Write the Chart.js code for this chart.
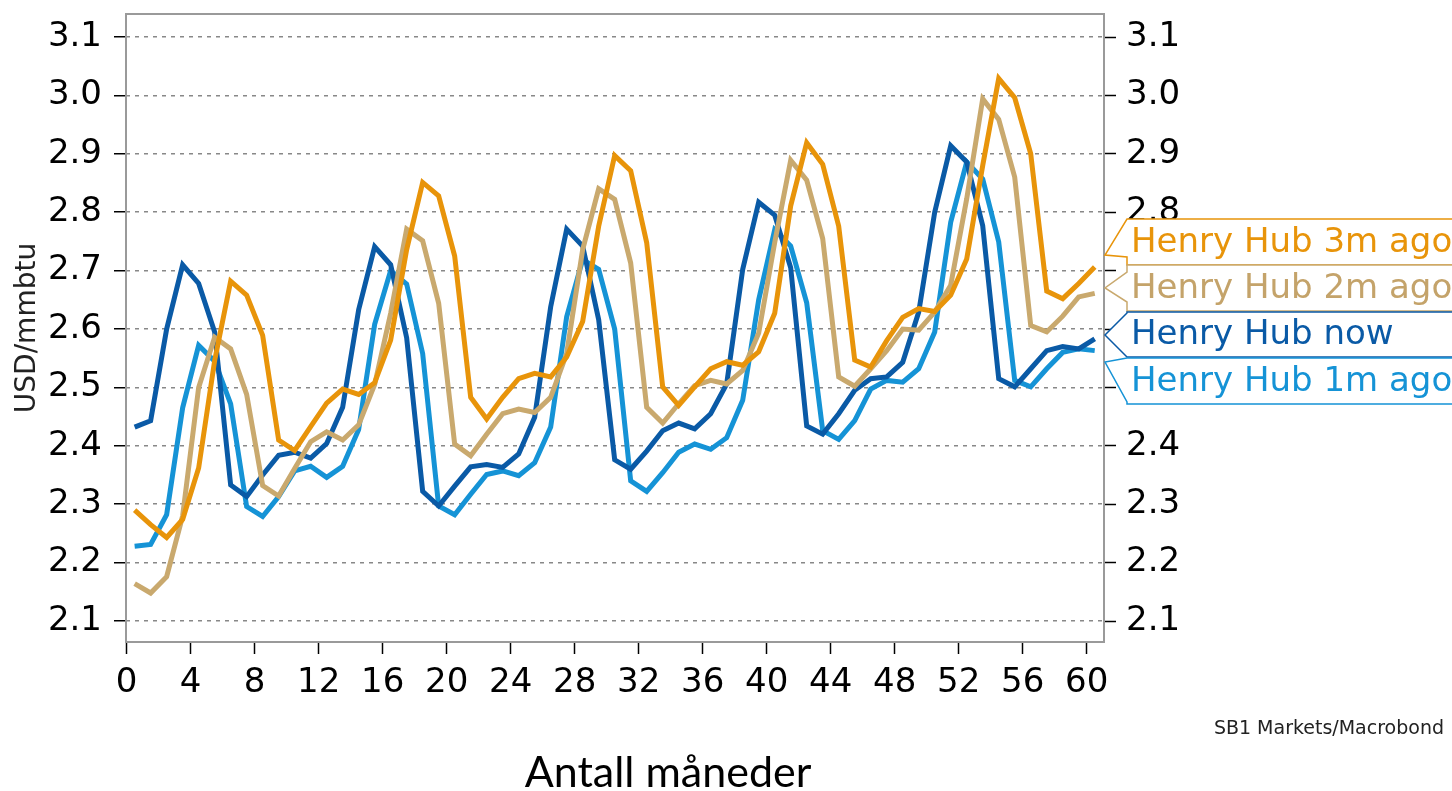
<!DOCTYPE html>
<html>
<head>
<meta charset="utf-8">
<script src="https://cdn.jsdelivr.net/npm/chart.js@4.4.1/dist/chart.umd.min.js"></script>
<style>
html,body{margin:0;padding:0;background:#fff;overflow:hidden}
#wrap{width:1452px;height:791px;position:relative}
</style>
</head>
<body>
<div id="wrap"><canvas id="c" width="1452" height="791"></canvas></div>
<script>
// ---- data ----
const months = [0.5,1.5,2.5,3.5,4.5,5.5,6.5,7.5,8.5,9.5,10.5,11.5,12.5,13.5,14.5,15.5,16.5,17.5,18.5,19.5,20.5,21.5,22.5,23.5,24.5,25.5,26.5,27.5,28.5,29.5,30.5,31.5,32.5,33.5,34.5,35.5,36.5,37.5,38.5,39.5,40.5,41.5,42.5,43.5,44.5,45.5,46.5,47.5,48.5,49.5,50.5,51.5,52.5,53.5,54.5,55.5,56.5,57.5,58.5,59.5,60.5];

const henryHub3mAgo = [2.290,2.265,2.243,2.274,2.362,2.546,2.682,2.658,2.589,2.410,2.392,2.433,2.473,2.497,2.488,2.508,2.581,2.736,2.851,2.828,2.725,2.483,2.446,2.483,2.515,2.524,2.518,2.552,2.613,2.776,2.897,2.871,2.748,2.501,2.469,2.501,2.532,2.544,2.538,2.561,2.627,2.811,2.919,2.882,2.776,2.547,2.535,2.580,2.620,2.635,2.630,2.658,2.720,2.880,3.029,2.996,2.900,2.665,2.652,2.678,2.706];

const henryHub2mAgo = [2.164,2.148,2.176,2.280,2.500,2.586,2.566,2.488,2.332,2.314,2.361,2.407,2.424,2.410,2.436,2.505,2.627,2.771,2.751,2.644,2.403,2.383,2.420,2.455,2.463,2.457,2.483,2.558,2.736,2.840,2.822,2.713,2.466,2.439,2.472,2.503,2.512,2.506,2.529,2.593,2.748,2.889,2.855,2.755,2.518,2.502,2.532,2.563,2.600,2.598,2.629,2.675,2.823,2.994,2.959,2.860,2.606,2.595,2.622,2.655,2.661];

const henryHubNow = [2.432,2.443,2.600,2.710,2.678,2.595,2.333,2.313,2.350,2.384,2.389,2.379,2.404,2.466,2.633,2.741,2.710,2.585,2.322,2.297,2.331,2.364,2.368,2.363,2.386,2.449,2.638,2.771,2.742,2.616,2.376,2.360,2.391,2.426,2.439,2.429,2.455,2.506,2.702,2.817,2.795,2.705,2.434,2.420,2.455,2.495,2.515,2.518,2.543,2.629,2.800,2.914,2.886,2.777,2.515,2.501,2.532,2.563,2.570,2.566,2.583];

const henryHub1mAgo = [2.228,2.231,2.282,2.465,2.572,2.545,2.472,2.296,2.279,2.313,2.357,2.365,2.346,2.365,2.428,2.608,2.700,2.677,2.558,2.297,2.282,2.317,2.351,2.357,2.349,2.371,2.432,2.621,2.719,2.702,2.600,2.340,2.322,2.354,2.389,2.403,2.394,2.414,2.478,2.650,2.770,2.742,2.645,2.426,2.411,2.443,2.497,2.512,2.509,2.532,2.595,2.783,2.886,2.857,2.749,2.512,2.501,2.532,2.560,2.566,2.563];

const seriesNames = ['Henry Hub 3m ago','Henry Hub 2m ago','Henry Hub now','Henry Hub 1m ago'];
const yTickLabels = [2.1,2.2,2.3,2.4,2.5,2.6,2.7,2.8,2.9,3.0,3.1];
const xTickLabels = [0,4,8,12,16,20,24,28,32,36,40,44,48,52,56,60];
const yAxisTitle = 'USD/mmbtu';
const xAxisTitle = 'Antall måneder';
const sourceText = 'SB1 Markets/Macrobond';

// ---- styles ----
const COLORS = {
  m3: '#e8940a',
  m2: '#c9a96e',
  now: '#0a5aa6',
  m1: '#1593d6'
};
const FONT = "'DejaVu Sans', 'Liberation Sans', sans-serif";

function pts(vals){ return months.map((m,i)=>({x:m,y:vals[i]})); }

const seriesValues = [henryHub3mAgo, henryHub2mAgo, henryHubNow, henryHub1mAgo];
const seriesColors = [COLORS.m3, COLORS.m2, COLORS.now, COLORS.m1];

const datasets = seriesNames.map((n,i)=>({
  label:n,
  data:pts(seriesValues[i]),
  borderColor:seriesColors[i],
  backgroundColor:seriesColors[i],
  borderWidth:5,
  pointRadius:0,
  tension:0,
  fill:false,
  yAxisID:'y'
}));

const Y_MIN = 2.0641, Y_MAX = 3.1394;

function setTicks(list){ return s => { s.ticks = list.map(v=>({value:v})); }; }
function fixV(w){ return s => { s.width = w; s.paddingTop = 0; s.paddingBottom = 0; }; }

const frame = {
  id:'frame',
  afterDatasetsDraw(chart){
    const {ctx, chartArea:a} = chart;
    ctx.save();
    ctx.strokeStyle = '#9a9a9a';
    ctx.lineWidth = 2;
    ctx.strokeRect(a.left, a.top, a.right-a.left, a.bottom-a.top);
    ctx.restore();
  }
};

const labels = {
  id:'labels',
  afterDraw(chart){
    const ctx = chart.ctx;
    const x0 = 1127, tipX = 1105, textX = 1131, far = 1470;
    const boxes = [
      {top:219, bottom:265, b1:219, b2:257, tip:255, color:COLORS.m3, text:seriesNames[0], tcolor:'#e8940a'},
      {top:265, bottom:311, b1:272, b2:302, tip:288, color:COLORS.m2, text:seriesNames[1], tcolor:'#c4a36a'},
      {top:312, bottom:357, b1:313, b2:357, tip:335, color:COLORS.now, text:seriesNames[2], tcolor:'#0a5aa6'},
      {top:358, bottom:404, b1:358, b2:402, tip:362, color:COLORS.m1, text:seriesNames[3], tcolor:'#1593d6'}
    ];
    ctx.save();
    boxes.forEach(b=>{
      ctx.beginPath();
      ctx.moveTo(far, b.top);
      ctx.lineTo(x0, b.top);
      ctx.lineTo(x0, b.b1);
      ctx.lineTo(tipX, b.tip);
      ctx.lineTo(x0, b.b2);
      ctx.lineTo(x0, b.bottom);
      ctx.lineTo(far, b.bottom);
      ctx.closePath();
      ctx.fillStyle = '#fff';
      ctx.fill();
      ctx.strokeStyle = b.color;
      ctx.lineWidth = 1.5;
      ctx.stroke();
    });
    boxes.forEach(b=>{
      ctx.fillStyle = b.tcolor;
      ctx.font = '34px ' + FONT;
      ctx.textAlign = 'left';
      ctx.textBaseline = 'middle';
      ctx.fillText(b.text, textX, (b.top+b.bottom)/2 + 1);
    });
    // source
    ctx.fillStyle = '#222';
    ctx.font = '19px ' + FONT;
    ctx.textAlign = 'right';
    ctx.textBaseline = 'middle';
    ctx.fillText(sourceText, 1444, 729);
    // x axis title
    ctx.fillStyle = '#000';
    ctx.font = '43px Lato, ' + FONT;
    ctx.textAlign = 'center';
    ctx.textBaseline = 'alphabetic';
    ctx.fillText(xAxisTitle, 668, 787);
    ctx.restore();
  }
};

Chart.defaults.font.family = FONT;

new Chart(document.getElementById('c'), {
  type:'line',
  data:{datasets},
  plugins:[frame, labels],
  options:{
    responsive:false,
    animation:false,
    devicePixelRatio:1,
    layout:{padding:{top:14,left:0,right:0,bottom:0}},
    plugins:{legend:{display:false}, tooltip:{enabled:false}, title:{display:false}},
    scales:{
      x:{
        type:'linear', min:-0.04, max:61.08,
        afterBuildTicks:setTicks(xTickLabels),
        afterFit:s=>{ s.height = 149; s.paddingLeft = 0; s.paddingRight = 0; },
        grid:{drawOnChartArea:false, drawTicks:true, tickLength:12, tickColor:'#000', tickWidth:1.5},
        border:{display:false},
        ticks:{font:{size:34}, color:'#000', padding:9, autoSkip:false, maxRotation:0, minRotation:0}
      },
      y:{
        type:'linear', position:'left', min:Y_MIN, max:Y_MAX,
        afterBuildTicks:setTicks(yTickLabels),
        afterFit:fixV(126),
        grid:{color:'#888888', lineWidth:1.5, drawTicks:true, tickLength:12, tickColor:'#000', tickWidth:1.5},
        border:{display:false, dash:[4,5]},
        ticks:{font:{size:34}, color:'#000', padding:12, callback:v=>Number(v).toFixed(1)},
        title:{display:true, text:yAxisTitle, font:{size:28}, color:'#222', padding:{top:11,bottom:0}}
      },
      y2:{
        type:'linear', position:'right', min:Y_MIN, max:Y_MAX,
        afterBuildTicks:setTicks(yTickLabels),
        afterFit:fixV(348),
        grid:{drawOnChartArea:false, drawTicks:true, tickLength:12, tickColor:'#000', tickWidth:1.5},
        border:{display:false},
        ticks:{font:{size:34}, color:'#000', padding:10, callback:v=>Number(v).toFixed(1)}
      }
    }
  }
});
</script>
</body>
</html>
